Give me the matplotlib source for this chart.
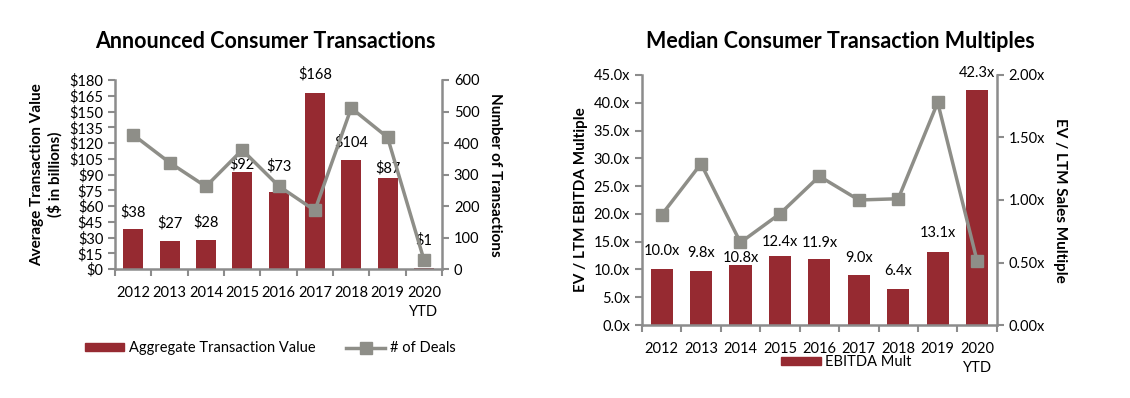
import matplotlib
matplotlib.use("Agg")
import matplotlib.pyplot as plt
from matplotlib.patches import Patch
from matplotlib.lines import Line2D
from matplotlib.ticker import MultipleLocator, FuncFormatter

plt.rcParams['font.family'] = ['Lato', 'DejaVu Sans']
plt.rcParams['font.size'] = 10.5

years = ["2012", "2013", "2014", "2015", "2016", "2017", "2018", "2019", "2020\nYTD"]

# left chart
agg_value = [38, 27, 28, 92, 73, 168, 104, 87, 1]
num_deals = [426, 338, 262, 378, 264, 186, 511, 418, 30]
value_label_offset = [16, 17, 17, 8, 25, 17, 17, 9, 26]   # $bn above bar top

# right chart
ebitda_mult = [10.0, 9.8, 10.8, 12.4, 11.9, 9.0, 6.4, 13.1, 42.3]
sales_mult = [0.88, 1.29, 0.66, 0.89, 1.19, 1.00, 1.01, 1.78, 0.51]
mult_label_offset = [3.4, 3.2, 1.2, 2.6, 2.8, 3.0, 3.3, 3.4, 3.1]

BAR = "#962a31"
LINE = "#8e8e88"
SPINE = "#8c8c8c"

fig = plt.figure(figsize=(11.3, 3.98), dpi=100)
x = list(range(len(years)))


def style_axes(ax, ax2):
    for a in (ax, ax2):
        for s in a.spines.values():
            s.set_visible(False)
        a.tick_params(colors=SPINE, labelcolor="black", width=1.5, length=5, labelsize=10.5)
    ax.spines["left"].set_visible(True)
    ax.spines["bottom"].set_visible(True)
    ax2.spines["right"].set_visible(True)
    for sp in (ax.spines["left"], ax.spines["bottom"], ax2.spines["right"]):
        sp.set_color(SPINE)
        sp.set_linewidth(1.8)
    ax.set_xlim(-0.5, len(years) - 0.5)
    ax.set_xticks(x)
    ax.set_xticklabels(years)
    ax.set_xticks([i - 0.5 for i in range(len(years) + 1)], minor=True)
    ax.tick_params(axis="x", which="major", length=0, pad=12)
    ax.tick_params(axis="x", which="minor", length=5, width=1.5, colors=SPINE)
    for lbl in ax.get_xticklabels():
        lbl.set_verticalalignment("top")
        lbl.set_linespacing(1.45)


# ---- Announced Consumer Transactions
ax1 = fig.add_axes([0.1018, 0.324, 0.2894, 0.475])
ax1b = ax1.twinx()
ax1.bar(x, agg_value, width=0.55, color=BAR, zorder=2)
ax1.set_ylim(0, 180)
ax1.yaxis.set_major_locator(MultipleLocator(15))
ax1.yaxis.set_major_formatter(FuncFormatter(lambda v, p: f"${v:.0f}"))
for i, v in enumerate(agg_value):
    ax1.text(i, v + value_label_offset[i], f"${v}", ha="center", va="center", fontsize=10.5)
ax1b.plot(x, num_deals, color=LINE, lw=2.5, marker="s", ms=9, mfc=LINE, mec=LINE)
ax1b.set_ylim(0, 600)
ax1b.yaxis.set_major_locator(MultipleLocator(100))
style_axes(ax1, ax1b)
ax1.set_ylabel("Average Transaction Value\n($ in billions)", fontweight="bold", fontsize=11, labelpad=5)
ax1b.set_ylabel("Number of Transactions", fontweight="bold", fontsize=11, rotation=270, labelpad=16)
fig.text(0.2345, 0.895, "Announced Consumer Transactions", ha="center", va="center",
         fontsize=15.5, fontweight="bold")

h1 = [Patch(color=BAR), Line2D([], [], color=LINE, lw=2.5, marker="s", ms=8)]
fig.legend(h1, ["Aggregate Transaction Value", "# of Deals"], loc="center",
           bbox_to_anchor=(0.239, 0.125), ncol=2, frameon=False, fontsize=10.5,
           handlelength=2.7, handleheight=0.5, columnspacing=2.1, handletextpad=0.3)

# ---- Median Consumer Transaction Multiples
ax2 = fig.add_axes([0.568, 0.1834, 0.3142, 0.6282])
ax2b = ax2.twinx()
ax2.bar(x, ebitda_mult, width=0.56, color=BAR, zorder=2)
ax2.set_ylim(0, 45)
ax2.yaxis.set_major_locator(MultipleLocator(5))
ax2.yaxis.set_major_formatter(FuncFormatter(lambda v, p: f"{v:.1f}x"))
for i, v in enumerate(ebitda_mult):
    ax2.text(i, v + mult_label_offset[i], f"{v:.1f}x", ha="center", va="center", fontsize=10.5)
ax2b.plot(x, sales_mult, color=LINE, lw=2.5, marker="s", ms=9, mfc=LINE, mec=LINE)
ax2b.set_ylim(0, 2)
ax2b.yaxis.set_major_locator(MultipleLocator(0.5))
ax2b.yaxis.set_major_formatter(FuncFormatter(lambda v, p: f"{v:.2f}x"))
style_axes(ax2, ax2b)
ax2.set_ylabel("EV / LTM EBITDA Multiple", fontweight="bold", fontsize=11, labelpad=4)
ax2b.set_ylabel("EV / LTM Sales Multiple", fontweight="bold", fontsize=11, rotation=270, labelpad=16)
fig.text(0.7435, 0.895, "Median Consumer Transaction Multiples", ha="center", va="center",
         fontsize=15.5, fontweight="bold")

fig.legend([Patch(color=BAR)], ["EBITDA Mult"], loc="center",
           bbox_to_anchor=(0.749, 0.09), frameon=False, fontsize=10.5,
           handlelength=2.7, handleheight=0.5, handletextpad=0.3)

fig.savefig("out.png", dpi=100)
